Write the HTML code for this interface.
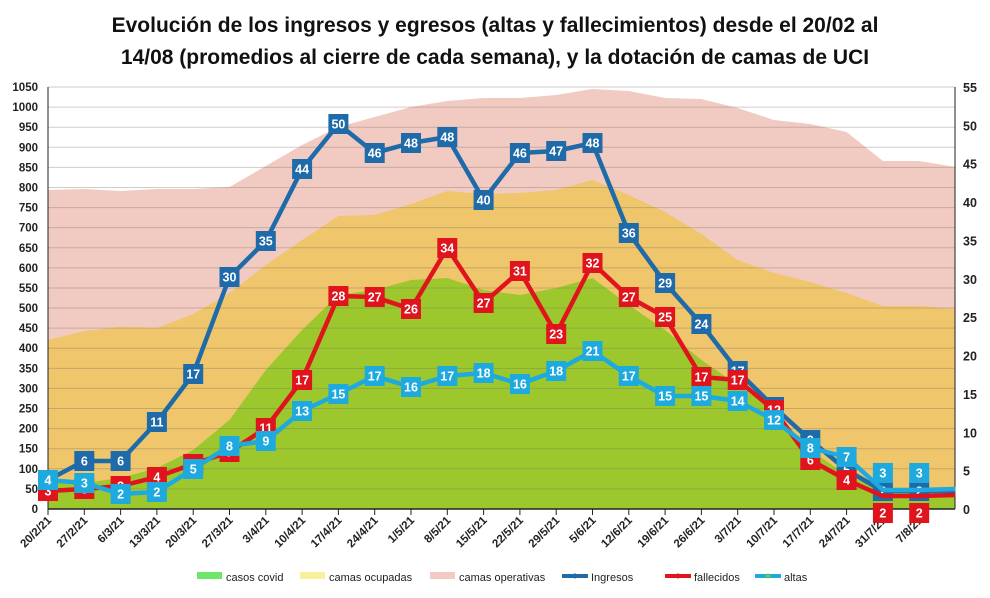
<!DOCTYPE html>
<html><head><meta charset="utf-8"><style>
html,body{margin:0;padding:0;background:#fff;width:990px;height:598px;overflow:hidden}
svg{display:block;font-family:"Liberation Sans",Arial,sans-serif}
</style></head><body>
<svg id="c" width="990" height="598" xmlns="http://www.w3.org/2000/svg">
<rect x="0" y="0" width="990" height="598" fill="#fff"/>
<text x="495" y="32" text-anchor="middle" font-size="21" font-weight="bold" fill="#111">Evolución de los ingresos y egresos (altas y fallecimientos) desde el 20/02 al</text>
<text x="495" y="64" text-anchor="middle" font-size="21" font-weight="bold" fill="#111">14/08 (promedios al cierre de cada semana), y la dotación de camas de UCI</text>
<g id="g"></g>
</svg>
<script>
const NS="http://www.w3.org/2000/svg",g=document.getElementById('g');
function el(t,a,txt){const e=document.createElementNS(NS,t);for(const k in a)e.setAttribute(k,a[k]);if(txt!==undefined)e.textContent=txt;g.appendChild(e);return e;}
const X0=48,DX=36.3,Y0=509;
const xs=i=>X0+i*DX;
const pink=[190,189,191,189,189,187,166,145,127,117,107,101,98,98,95,89,91,98,99,108,120,124,132,161,161,167];
const orange=[340,331,327,328,314,293,265,240,216,215,204,191,194,193,190,180,195,212,234,260,273,282,293,306,306,309];
const green=[480,483,478,468,450,420,370,330,295,290,280,278,290,295,288,278,305,330,360,385,410,450,475,490,493,495];
function area(arr,col){let d=`M${X0},${Y0}`;arr.forEach((y,i)=>d+=` L${xs(i).toFixed(1)},${y}`);d+=` L${xs(25)},${Y0}Z`;el('path',{d,fill:col});}
area(pink,'#f1cbc2');area(orange,'#efc66b');area(green,'#9cc82e');
// grid
for(let v=50;v<=1050;v+=50){const y=Y0-v*0.40190;el('line',{x1:X0,x2:955,y1:y,y2:y,stroke:'rgba(120,110,100,0.35)','stroke-width':1});}
el('line',{x1:X0,x2:955,y1:Y0,y2:Y0,stroke:'#222','stroke-width':1.5});
el('line',{x1:X0,x2:X0,y1:87,y2:Y0,stroke:'#222','stroke-width':1});
el('line',{x1:955,x2:955,y1:87,y2:Y0,stroke:'#222','stroke-width':1});
for(let v=0;v<=1050;v+=50){const y=Y0-v*0.40190;el('text',{x:38,y:y+4,'text-anchor':'end','font-size':11.5,'font-weight':'bold',fill:'#222'},v);}
for(let v=0;v<=55;v+=5){const y=Y0-v*7.673;el('text',{x:963,y:y+5,'font-size':12.5,'font-weight':'bold',fill:'#222'},v);}
const dates=['20/2/21','27/2/21','6/3/21','13/3/21','20/3/21','27/3/21','3/4/21','10/4/21','17/4/21','24/4/21','1/5/21','8/5/21','15/5/21','22/5/21','29/5/21','5/6/21','12/6/21','19/6/21','26/6/21','3/7/21','10/7/21','17/7/21','24/7/21','31/7/21','7/8/21'];
dates.forEach((d,i)=>{const x=xs(i);el('line',{x1:x,x2:x,y1:Y0,y2:Y0+6,stroke:'#222'});el('text',{x:x+4,y:Y0+12,'text-anchor':'end','font-size':11.5,'font-weight':'bold',fill:'#222',transform:`rotate(-45 ${x+4} ${Y0+12})`},d);});
const ing=[480,461,461,422,374,277,241,169,124,153,143,137,200,153,151,143,233,283,324,371,407,440,470,491,491,491];
const ingL=[4,6,6,11,17,30,35,44,50,46,48,48,40,46,47,48,36,29,24,17,13,9,5,2,2];
const fal=[491,489,486,477,464,452,428,380,296,297,309,248,303,271,334,263,297,317,377,380,410,460,480,496,496,495];
const falL=[3,3,3,4,6,7,11,17,28,27,26,34,27,31,23,32,27,25,17,17,12,6,4,2,2];
const alt=[480,483,494,492,469,446,441,411,394,376,387,376,373,384,371,351,376,396,396,401,420,448,457,490,490,489];
const altL=[4,3,2,2,5,8,9,13,15,17,16,17,18,16,18,21,17,15,15,14,12,8,7,3,3];
function series(arr,labs,col,boxOff){
 el('polyline',{points:arr.map((y,i)=>xs(i).toFixed(1)+','+y).join(' '),fill:'none',stroke:col,'stroke-width':4.5,'stroke-linejoin':'round'});
 labs.forEach((l,i)=>{let y=arr[i]+(boxOff?boxOff(i):0);const x=xs(i);el('rect',{x:x-10,y:y-10,width:20,height:20,fill:col});el('text',{x:x,y:y+4.5,'text-anchor':'middle','font-size':12.5,'font-weight':'bold',fill:'#fff'},l);});
}
series(ing,ingL,'#1f6aa8');
series(fal,falL,'#e0141c',i=>(i>=23?17:0));
series(alt,altL,'#1eaade',i=>(i>=23?-17:0));
// legend
const ly=577;
el('rect',{x:197,y:ly-5,width:25,height:7,fill:'#6ee66a'});el('text',{x:226,y:ly+4,'font-size':11,fill:'#222'},'casos covid');
el('rect',{x:300,y:ly-5,width:25,height:7,fill:'#f8f09a'});el('text',{x:329,y:ly+4,'font-size':11,fill:'#222'},'camas ocupadas');
el('rect',{x:430,y:ly-5,width:25,height:7,fill:'#f2cbc4'});el('text',{x:459,y:ly+4,'font-size':11,fill:'#222'},'camas operativas');
[['#1f6aa8',562,'Ingresos'],['#e0141c',665,'fallecidos'],['#1eaade',755,'altas']].forEach(([c,x,t])=>{el('line',{x1:x,x2:x+26,y1:ly-1,y2:ly-1,stroke:c,'stroke-width':4});el('circle',{cx:x+13,cy:ly-1,r:2.5,fill:c==='#1eaade'?'#5c5':c});el('text',{x:x+29,y:ly+4,'font-size':11,fill:'#222'},t);});
</script>
</body></html>
